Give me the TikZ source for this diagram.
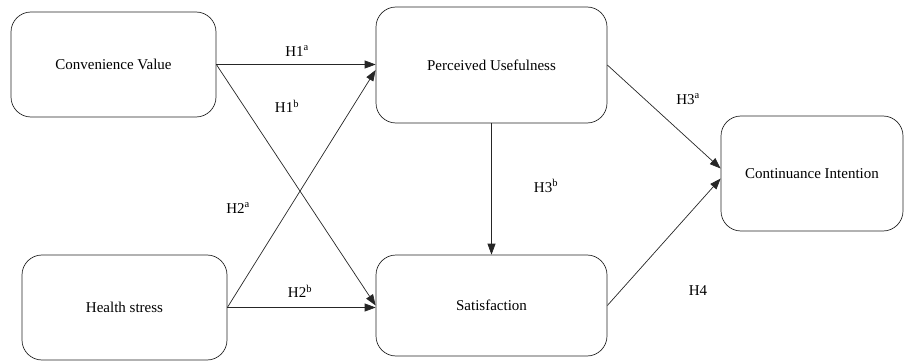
\documentclass[tikz,border=0pt]{standalone}
\usepackage{fontspec}
\setmainfont{Liberation Serif}
\usetikzlibrary{arrows.meta}

\begin{document}
\begin{tikzpicture}[x=1pt,y=1pt]

% Styles
\tikzset{
    var/.style={draw=black!85,line width=0.7pt,rounded corners=20pt,
        font=\fontsize{15}{18}\selectfont},
    hyp/.style={font=\fontsize{15}{18}\selectfont},
    path/.style={draw=black!85,line width=0.7pt,-{Triangle[length=11pt,width=8pt]}}
}

\useasboundingbox (0,0) rectangle (906,-361);

% Variables
\node[var,minimum width=205pt,minimum height=105pt] (cv) at (113.5,-64.5) {Convenience Value};
\node[var,minimum width=205pt,minimum height=105pt] (hs) at (124.5,-307.5) {Health stress};
\node[var,minimum width=231pt,minimum height=116pt] (pu) at (491.5,-65) {Perceived Usefulness};
\node[var,minimum width=231pt,minimum height=101pt] (sat) at (491.5,-305.5) {Satisfaction};
\node[var,minimum width=182pt,minimum height=115pt] (ci) at (812,-173.5) {Continuance Intention};

% Paths
\draw[path] (cv.east) -- (cv.east -| pu.west);
\draw[path] (cv.east) -- (sat.west);
\draw[path] (hs.east) -- ([yshift=-5pt]pu.west);
\draw[path] (hs.east) -- (hs.east -| sat.west);
\draw[path] (pu.south) -- (sat.north);
\draw[path] (pu.east) -- ([yshift=5pt]ci.west);
\draw[path] (sat.east) -- ([yshift=-5pt]ci.west);

% Hypotheses
\node[hyp] (h1a) at (297,-51) {H1\textsuperscript{a}};
\node[hyp] (h1b) at (287,-106) {H1\textsuperscript{b}};
\node[hyp] (h2a) at (238,-208) {H2\textsuperscript{a}};
\node[hyp] (h2b) at (300,-291) {H2\textsuperscript{b}};
\node[hyp] (h3a) at (688,-99) {H3\textsuperscript{a}};
\node[hyp] (h3b) at (546,-186) {H3\textsuperscript{b}};
\node[hyp] (h4) at (698,-291) {H4};

\end{tikzpicture}
\end{document}
